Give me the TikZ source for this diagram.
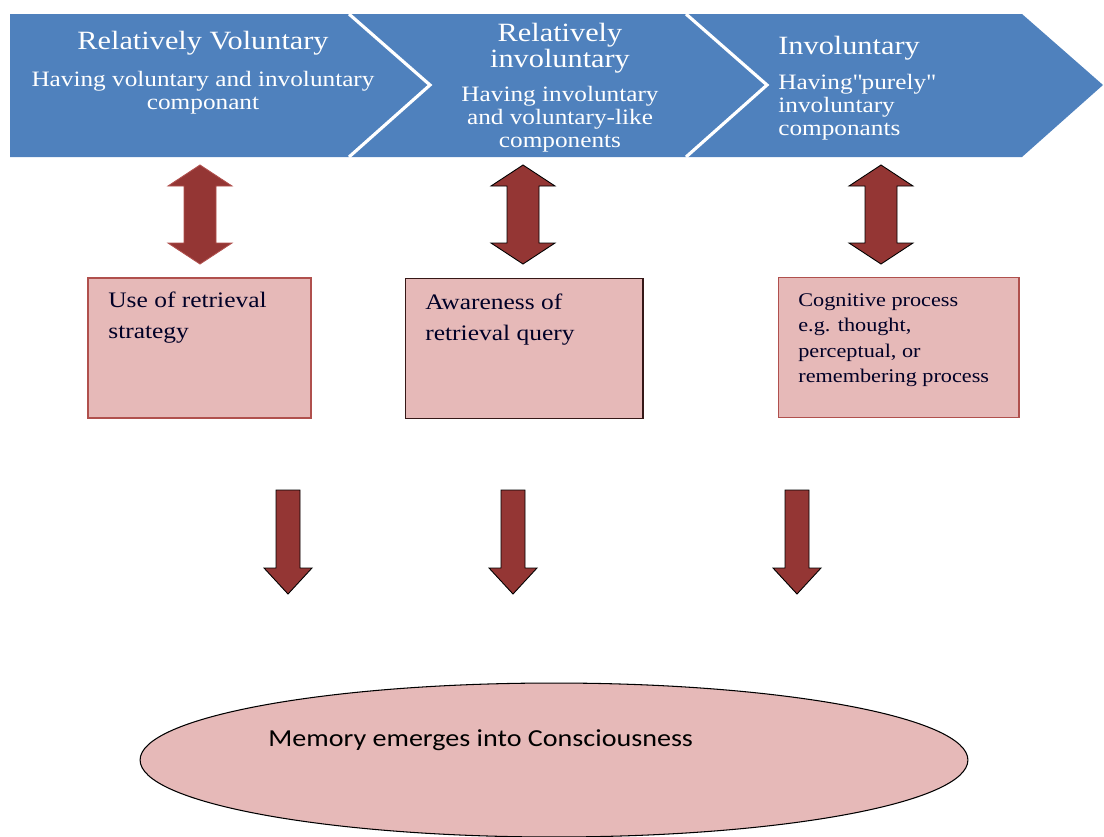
\documentclass[tikz,border=0pt]{standalone}
\usepackage{fontspec}
\setmainfont[FakeStretch=1.15]{Liberation Serif}
\newfontfamily\calibri[FakeStretch=1.15]{Carlito}
\usetikzlibrary{shapes.geometric,positioning}

\definecolor{chevblue}{HTML}{4F81BD}
\definecolor{boxpink}{HTML}{E6B9B8}
\definecolor{boxred}{HTML}{B0504D}
\definecolor{arrowred}{HTML}{943634}

\tikzstyle{chevron} = [fill=chevblue]
\tikzstyle{divider} = [draw=white, line width=1.8pt]
\tikzstyle{chevtitle} = [text=white, inner sep=0pt, align=center, anchor=north,
    font=\fontsize{15}{14.8}\selectfont]
\tikzstyle{chevsub} = [text=white, inner sep=0pt, align=center, anchor=north,
    font=\fontsize{12.5}{13}\selectfont]
\tikzstyle{pinkbox} = [rectangle, draw=boxred, fill=boxpink, line width=0.6pt,
    minimum width=4.46cm, minimum height=2.8cm]
\tikzstyle{boxtext} = [inner sep=0pt, align=left, anchor=north west,
    text=black!85!blue, font=\fontsize{12.6}{17.4}\selectfont]
\tikzstyle{bigarrow} = [fill=arrowred, draw=black, line width=0.5pt]

% block arrows, x is the centre in px
\newcommand{\dblarrow}[2][]{\filldraw[bigarrow,#1] (#2,165) -- ({#2+32},186) -- ({#2+16},186)
    -- ({#2+16},243) -- ({#2+32},243) -- (#2,264) -- ({#2-32},243) -- ({#2-16},243)
    -- ({#2-16},186) -- ({#2-32},186) -- cycle;}
\newcommand{\dnarrow}[1]{\filldraw[bigarrow] ({#1-12},490) -- ({#1+12},490) -- ({#1+12},568)
    -- ({#1+24},568) -- (#1,594) -- ({#1-24},568) -- ({#1-12},568) -- cycle;}

\begin{document}
\begin{tikzpicture}[x=0.02cm, y=-0.02cm]
\useasboundingbox (0,0) rectangle (1104,836);

%Chevrons
\fill[chevron] (10,14) -- (349,14) -- (430,85) -- (349,157) -- (10,157) -- cycle;
\fill[chevron] (349,14) -- (686,14) -- (767,85) -- (686,157) -- (349,157) -- (430,85) -- cycle;
\fill[chevron] (686,14) -- (1022,14) -- (1103,85) -- (1022,157) -- (686,157) -- (767,85) -- cycle;
\draw[divider] (349,14) -- (430,85) -- (349,157);
\draw[divider] (686,14) -- (767,85) -- (686,157);

\node (RelVol) [chevtitle] at (203,31) {Relatively Voluntary};
\node (RelVolSub) [chevsub] at (203,71) {Having voluntary and involuntary\\componant};
\node (RelInvol) [chevtitle] at (560,23) {Relatively\\involuntary};
\node (RelInvolSub) [chevsub] at (560,86) {Having involuntary\\and voluntary-like\\components};
\node (Invol) [chevtitle, anchor=north west] at (778,36) {Involuntary};
\node (InvolSub) [chevsub, anchor=north west, align=left] at (778,74)
    {Having\textquotedbl purely\textquotedbl\\involuntary\\componants};

%Double arrows
\dblarrow[draw=boxred]{200}
\dblarrow{523}
\dblarrow{881}

%Boxes
\node (Strategy) [pinkbox] at (199.5,348) {};
\node (Query) [pinkbox, draw=black!70!boxred, minimum width=4.76cm] at (524,348.5) {};
\node (Cognitive) [pinkbox, minimum width=4.82cm] at (898.5,347.5) {};

\node (StrategyText) [boxtext] at (108,292) {Use of retrieval\\strategy};
\node (QueryText) [boxtext] at (425,294) {Awareness of\\retrieval query};
\node (CognitiveText) [boxtext, font=\fontsize{11}{14.5}\selectfont] at (798,293)
    {Cognitive process\\e.g. thought,\\perceptual, or\\remembering process};

%Down arrows
\dnarrow{288}
\dnarrow{513}
\dnarrow{797}

%Ellipse
\node (Memory) [ellipse, draw=black, fill=boxpink, line width=0.6pt,
    minimum width=16.56cm, minimum height=3.08cm] at (554,760) {};
\node (MemoryText) [anchor=base west, inner sep=0pt, font=\calibri\fontsize{13.9}{16}\selectfont]
    at (268,746) {Memory emerges into Consciousness};

\end{tikzpicture}
\end{document}
